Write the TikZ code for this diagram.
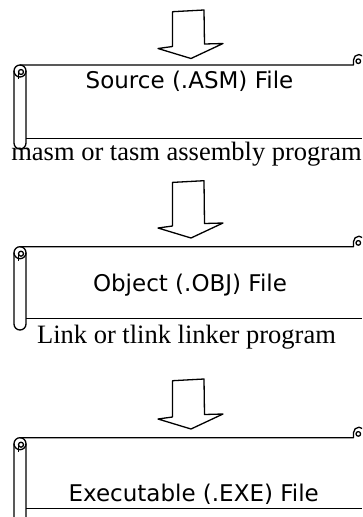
\documentclass[tikz,border=0pt]{standalone}
\usepackage{fontspec}
\setmainfont{Liberation Serif}
\newfontfamily\lblfont{DejaVu Sans}
\newcommand\blockdownarrow[2]{%
  \draw[blockarrow] (172.5,#1+1.7) -- (204,#1) -- (204.5,#2-14.5) -- (223,#2-15)
    -- (191,#2) -- (158,#2-10) -- (172.5,#2-12) -- cycle;}
\newcommand\scrollshape[3]{%
  % top body line and right curl
  \draw[scrollline] (20,#1) -- (353.5,#1) -- (353.5,#1-5) arc[start angle=180,end angle=360,radius=5.5];
  \draw[scrollline] (358.3,#1-3.8) circle[radius=2.3];
  % left tube
  \draw[scrollline] (14,#1+6) -- (14,#3-6) arc[start angle=180,end angle=0,radius=6] -- (26,#1+6);
  \draw[scrollline] (20,#1+6) circle[radius=6];
  \draw[scrollline] (21,#1+7) circle[radius=2.5];
  \draw[scrollline] (18.5,#1+7) -- (18.5,#1+14);
  % bottom body line
  \draw[scrollline] (26,#2) -- (362,#2);}
\begin{document}
\begin{tikzpicture}[x=1pt,y=-1pt,line join=round,
  blockarrow/.style={draw,fill=white,line width=1.3pt},
  scrollline/.style={line width=1.3pt},
  filelabel/.style={font=\lblfont\fontsize{23}{27}\selectfont,anchor=base,inner sep=0pt},
  proglabel/.style={font=\fontsize{26.5}{30}\selectfont,anchor=base,inner sep=0pt}]
\useasboundingbox (0,0) rectangle (362,517);
\clip (0,0) rectangle (362,517);
\fill[white] (0,0) rectangle (362,517);
\blockdownarrow{10}{58.5}
\scrollshape{65}{138.3}{149}
\node[filelabel] (src) at (189.5,88.3) {Source (.ASM) File};
\node[proglabel] (masm) at (186.5,160.7) {masm or tasm assembly program};
\blockdownarrow{180.7}{238}
\scrollshape{246.7}{318.3}{330}
\node[filelabel] (obj) at (190,291.7) {Object (.OBJ) File};
\node[proglabel] (link) at (186.5,343.3) {Link or tlink linker program};
\blockdownarrow{379}{429}
\scrollshape{437.7}{508.3}{530}
\node[filelabel] (exe) at (193.7,501) {Executable (.EXE) File};
\end{tikzpicture}
\end{document}
